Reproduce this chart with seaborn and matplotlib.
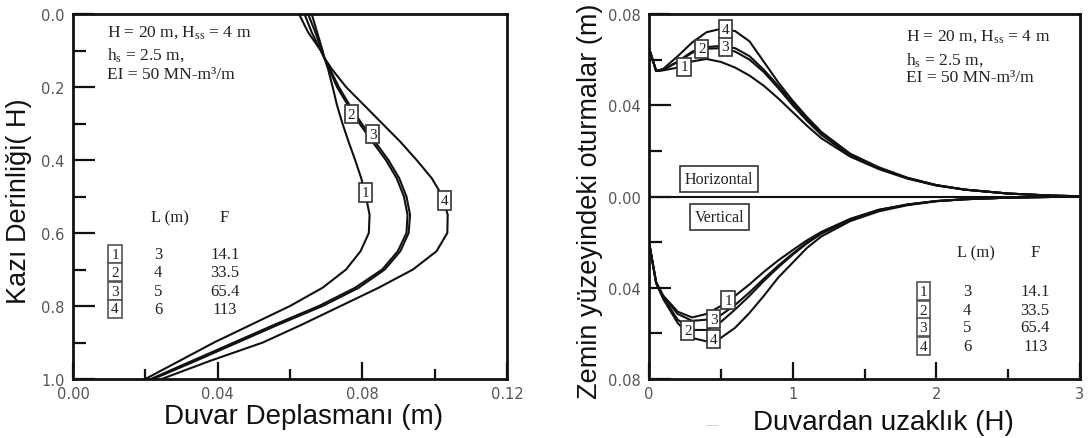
import numpy as np
import pandas as pd
import matplotlib
matplotlib.use("Agg")
import matplotlib.pyplot as plt
import seaborn as sns

# ---------------- data ----------------
# left panel: wall displacement (m) vs depth (H)
depth = [0.0, 0.05, 0.10, 0.12, 0.15, 0.20, 0.25, 0.30, 0.35, 0.40, 0.45,
         0.50, 0.55, 0.60, 0.65, 0.70, 0.75, 0.80, 0.85, 0.90, 0.95, 1.00]
wall_L3 = [0.0660, 0.0675, 0.0690, 0.0695, 0.0705, 0.0718, 0.0730, 0.0745, 0.0762, 0.0780, 0.0797,
           0.0810, 0.0820, 0.0818, 0.0795, 0.0755, 0.0690, 0.0600, 0.0495, 0.0390, 0.0295, 0.0200]
wall_L4 = [0.0650, 0.0670, 0.0688, 0.0695, 0.0708, 0.0730, 0.0760, 0.0792, 0.0828, 0.0865, 0.0895,
           0.0915, 0.0925, 0.0922, 0.0898, 0.0855, 0.0780, 0.0680, 0.0560, 0.0445, 0.0330, 0.0215]
wall_L5 = [0.0640, 0.0660, 0.0685, 0.0695, 0.0710, 0.0735, 0.0765, 0.0798, 0.0835, 0.0872, 0.0902,
           0.0922, 0.0932, 0.0928, 0.0905, 0.0862, 0.0790, 0.0690, 0.0570, 0.0455, 0.0340, 0.0222]
wall_L6 = [0.0625, 0.0650, 0.0685, 0.0695, 0.0715, 0.0755, 0.0805, 0.0855, 0.0905, 0.0950, 0.0992,
           0.1022, 0.1036, 0.1035, 0.1005, 0.0940, 0.0845, 0.0740, 0.0635, 0.0525, 0.0380, 0.0245]

# right panel: surface settlements (m) vs distance from wall (H)
dist = [0.0, 0.05, 0.1, 0.2, 0.3, 0.4, 0.5, 0.6, 0.7, 0.8, 0.9, 1.0, 1.1,
        1.2, 1.4, 1.6, 1.8, 2.0, 2.2, 2.5, 2.8, 3.0]
horiz_L3 = [0.065, 0.055, 0.0553, 0.0565, 0.0592, 0.0603, 0.0590, 0.0565, 0.0530, 0.0485, 0.0430,
            0.0370, 0.0310, 0.0255, 0.0175, 0.0120, 0.0078, 0.0048, 0.0030, 0.0013, 0.0004, 0.0001]
horiz_L4 = [0.065, 0.055, 0.0555, 0.0590, 0.0630, 0.0648, 0.0650, 0.0635, 0.0600, 0.0545, 0.0475,
            0.0400, 0.0332, 0.0270, 0.0180, 0.0123, 0.0080, 0.0049, 0.0030, 0.0013, 0.0004, 0.0001]
horiz_L5 = [0.065, 0.055, 0.0556, 0.0592, 0.0635, 0.0655, 0.0660, 0.0650, 0.0615, 0.0555, 0.0485,
            0.0410, 0.0340, 0.0275, 0.0183, 0.0125, 0.0081, 0.0050, 0.0030, 0.0013, 0.0004, 0.0001]
horiz_L6 = [0.065, 0.055, 0.0560, 0.0615, 0.0675, 0.0720, 0.0735, 0.0725, 0.0680, 0.0590, 0.0500,
            0.0420, 0.0348, 0.0283, 0.0188, 0.0128, 0.0082, 0.0050, 0.0030, 0.0013, 0.0004, 0.0001]
vert_L3 = [-0.020, -0.0375, -0.0435, -0.0505, -0.0530, -0.0515, -0.0480, -0.0435, -0.0385, -0.0330, -0.0280,
           -0.0235, -0.0192, -0.0155, -0.0098, -0.0058, -0.0035, -0.0020, -0.0012, -0.0005, -0.0002, -0.0001]
vert_L4 = [-0.020, -0.0380, -0.0445, -0.0540, -0.0585, -0.0585, -0.0550, -0.0495, -0.0435, -0.0370, -0.0310,
           -0.0255, -0.0205, -0.0163, -0.0102, -0.0060, -0.0036, -0.0020, -0.0012, -0.0005, -0.0002, -0.0001]
vert_L5 = [-0.020, -0.0380, -0.0440, -0.0515, -0.0545, -0.0540, -0.0520, -0.0475, -0.0420, -0.0360, -0.0303,
           -0.0250, -0.0202, -0.0160, -0.0100, -0.0059, -0.0035, -0.0020, -0.0012, -0.0005, -0.0002, -0.0001]
vert_L6 = [-0.020, -0.0380, -0.0450, -0.0555, -0.0620, -0.0635, -0.0620, -0.0575, -0.0510, -0.0435, -0.0355,
           -0.0290, -0.0225, -0.0175, -0.0108, -0.0065, -0.0038, -0.0021, -0.0012, -0.0005, -0.0002, -0.0001]

case_ids = ["1", "2", "3", "4"]
lengths = ["3", "4", "5", "6"]
factors = ["14.1", "33.5", "65.4", "113"]

left_xticks = [0.00, 0.04, 0.08, 0.12]
left_yticks = [0.0, 0.2, 0.4, 0.6, 0.8, 1.0]
right_xticks = [0, 1, 2, 3]
right_yticks = [-0.08, -0.04, 0.00, 0.04, 0.08]

# ---------------- style ----------------
sns.set_style("white")
plt.rcParams["font.family"] = ["Liberation Sans", "DejaVu Sans"]
plt.rcParams["mathtext.fontset"] = "custom"
plt.rcParams["mathtext.rm"] = "Liberation Serif"
plt.rcParams["mathtext.it"] = "Liberation Serif:italic"
SERIF = ["Liberation Serif", "DejaVu Serif"]
TICKC = "#555555"
INK = "#111111"
TXT = "#222222"

W, H = 1089, 439
fig = plt.figure(figsize=(W / 100, H / 100), dpi=100)
ax1 = fig.add_axes([73 / W, 59 / H, 434 / W, 365 / H])
ax2 = fig.add_axes([649 / W, 59 / H, 431 / W, 365 / H])

# ---------------- left panel ----------------
walls = [wall_L3, wall_L4, wall_L5, wall_L6]
df_left = pd.concat([pd.DataFrame({"depth": depth, "disp": w, "case": c})
                     for w, c in zip(walls, case_ids)], ignore_index=True)
sns.lineplot(data=df_left, x="disp", y="depth", units="case", estimator=None,
             sort=False, color=INK, lw=1.5, legend=False, ax=ax1)
ax1.set_xlim(0, 0.12)
ax1.set_ylim(1.0, 0.0)
ax1.set_xticks(left_xticks)
ax1.set_xticklabels([f"{v:.2f}" for v in left_xticks])
ax1.set_xticks([0.02, 0.06, 0.10], minor=True)
ax1.set_yticks(left_yticks)
ax1.set_yticklabels([f"{v:.1f}" for v in left_yticks])
ax1.set_yticks([0.1, 0.3, 0.5, 0.7, 0.9], minor=True)
ax1.set_xlabel("Duvar Deplasmanı (m)", fontsize=20, color=INK)
ax1.set_ylabel("Kazı Derinliği( H)", fontsize=19.5, color=INK)
ax1.xaxis.set_label_coords(0.531, -0.066)
ax1.yaxis.set_label_coords(-0.094, 0.49)

# ---------------- right panel ----------------
horiz = [horiz_L3, horiz_L4, horiz_L5, horiz_L6]
vert = [vert_L3, vert_L4, vert_L5, vert_L6]
frames = []
for h, v, c in zip(horiz, vert, case_ids):
    frames.append(pd.DataFrame({"dist": dist, "val": h, "uid": "h" + c}))
    frames.append(pd.DataFrame({"dist": dist, "val": v, "uid": "v" + c}))
df_right = pd.concat(frames, ignore_index=True)
sns.lineplot(data=df_right, x="dist", y="val", units="uid", estimator=None,
             sort=False, color=INK, lw=1.5, legend=False, ax=ax2)
ax2.axhline(0, color=INK, lw=1.5)
ax2.set_xlim(0, 3)
ax2.set_ylim(-0.08, 0.08)
ax2.set_xticks(right_xticks)
ax2.set_xticklabels([str(v) for v in right_xticks])
ax2.set_xticks([0.5, 1.5, 2.5], minor=True)
ax2.set_yticks(right_yticks)
ax2.set_yticklabels([f"{abs(v):.2f}" for v in right_yticks])
ax2.set_yticks([-0.06, -0.02, 0.02, 0.06], minor=True)
ax2.set_xlabel("Duvardan uzaklık (H)", fontsize=20, color=INK)
ax2.set_ylabel("Zemin yüzeyindeki oturmalar (m)", fontsize=19.5, color=INK)
ax2.xaxis.set_label_coords(0.543, -0.082)
ax2.yaxis.set_label_coords(-0.106, 0.49)

for ax in (ax1, ax2):
    for s in ax.spines.values():
        s.set_linewidth(2.0)
        s.set_color(INK)
    ax.tick_params(which="both", bottom=True, left=True, top=False, right=False)
    ax.tick_params(which="major", direction="in", length=12, width=1.6, color=INK,
                   labelsize=10.5, labelcolor=TICKC, pad=5)
    ax.tick_params(which="minor", direction="in", length=7, width=1.6, color=INK)
    ax.tick_params(axis="y", which="major", length=16, pad=6)
    ax.tick_params(axis="y", which="minor", length=9)
    for lab in ax.get_xticklabels() + ax.get_yticklabels():
        lab.set_fontfamily(["DejaVu Sans"])


def numbox(ax, x, y, s, transform=None, ec="#333333"):
    kw = {}
    if transform is not None:
        kw["transform"] = transform
    ax.text(x, y, s, ha="center", va="center", fontsize=11, family=SERIF, color=TXT,
            bbox=dict(boxstyle="square,pad=0.18", fc="white", ec=ec, lw=1.2), zorder=5, **kw)


# curve labels, left
for cid, (x, y) in zip(case_ids, [(0.0808, 0.489), (0.0769, 0.274), (0.0829, 0.329), (0.1028, 0.511)]):
    numbox(ax1, x, y, cid)
# curve labels, right
for cid, (x, y) in zip(case_ids, [(0.244, 0.0568), (0.367, 0.0647), (0.53, 0.0658), (0.53, 0.0734)]):
    numbox(ax2, x, y, cid)
for cid, (x, y) in zip(case_ids, [(0.55, -0.0454), (0.27, -0.0588), (0.45, -0.0537), (0.45, -0.0625)]):
    numbox(ax2, x, y, cid)

# parameter text
params = ["H = 20 m, H$_{\\mathrm{ss}}$ = 4 m", "h$_{\\mathrm{s}}$ = 2.5 m,", "EI = 50 MN-m³/m"]
for ax, fx, fys in ((ax1, 0.078, [0.951, 0.890, 0.836]), (ax2, 0.596, [0.941, 0.877, 0.827])):
    for t, fy in zip(params, fys):
        ax.text(fx, fy, t, transform=ax.transAxes, ha="left", va="center",
                fontsize=12.5, family=SERIF, color=TXT)


# tables
def table(ax, hx_L, hx_F, hy, bx, lx, fx, rows_y):
    ax.text(hx_L, hy, "L (m)", transform=ax.transAxes, ha="center", va="center",
            fontsize=12, family=SERIF, color=TXT)
    ax.text(hx_F, hy, "F", transform=ax.transAxes, ha="center", va="center",
            fontsize=12, family=SERIF, color=TXT)
    for cid, L, F, ry in zip(case_ids, lengths, factors, rows_y):
        numbox(ax, bx, ry, cid, transform=ax.transAxes, ec="#555555")
        ax.text(lx, ry, L, transform=ax.transAxes, ha="center", va="center",
                fontsize=12, family=SERIF, color=TXT)
        ax.text(fx, ry, F, transform=ax.transAxes, ha="center", va="center",
                fontsize=12, family=SERIF, color=TXT)


table(ax1, 0.2235, 0.348, 0.444, 0.0968, 0.196, 0.350, [0.342, 0.293, 0.241, 0.192])
table(ax2, 0.759, 0.896, 0.348, 0.636, 0.738, 0.896, [0.241, 0.189, 0.142, 0.090])

# Horizontal / Vertical tags
for t, fy in (("Horizontal", 0.548), ("Vertical", 0.444)):
    ax2.text(0.163, fy, t, transform=ax2.transAxes, ha="center", va="center",
             fontsize=11.5, family=SERIF, color=TXT,
             bbox=dict(boxstyle="square,pad=0.3", fc="white", ec="#333333", lw=1.2))

fig.text(712 / W, 1 - 426 / H, "—", fontsize=9, color="#c8c8c8", ha="center", va="center")

fig.savefig("out.png", dpi=100)
